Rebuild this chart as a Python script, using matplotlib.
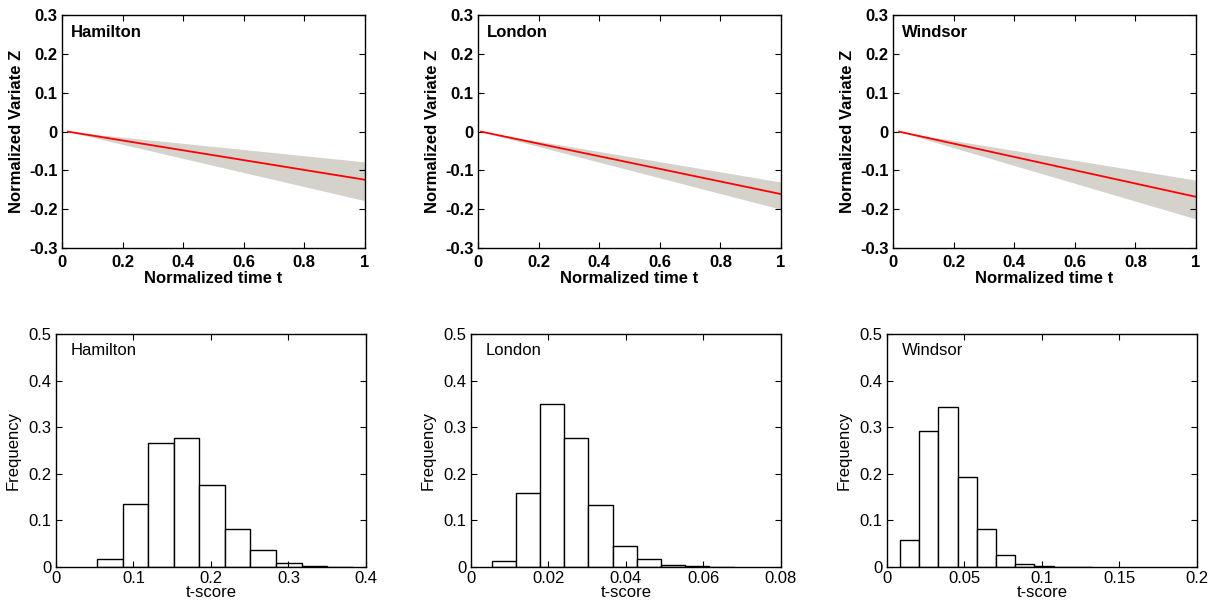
import numpy as np
import matplotlib.pyplot as plt

plt.rcParams['font.family'] = ['Liberation Sans', 'DejaVu Sans']

# Cities
cities = ['Hamilton', 'London', 'Windsor']

# Top row: trend of normalized variate (start t, end value, band at t=1)
t_start = [0.02, 0.01, 0.02]
z_end = [-0.124, -0.161, -0.168]
band_upper = [-0.078, -0.130, -0.125]
band_lower = [-0.178, -0.200, -0.225]

# Bottom row: t-score histograms (first bin edge, bin width, frequencies)
hist_start = [0.053, 0.0053, 0.0084]
hist_width = [0.033, 0.00625, 0.0124]
hist_freq = [
    [0.018, 0.135, 0.267, 0.278, 0.177, 0.081, 0.036, 0.009, 0.003, 0.001],
    [0.013, 0.160, 0.349, 0.277, 0.134, 0.045, 0.018, 0.004, 0.002, 0.001],
    [0.059, 0.293, 0.343, 0.193, 0.081, 0.026, 0.007, 0.002, 0.001, 0.001],
]
hist_xmax = [0.4, 0.08, 0.2]
hist_xticks = [[0, 0.1, 0.2, 0.3, 0.4],
               [0, 0.02, 0.04, 0.06, 0.08],
               [0, 0.05, 0.1, 0.15, 0.2]]
hist_xlabels = [['0', '0.1', '0.2', '0.3', '0.4'],
                ['0', '0.02', '0.04', '0.06', '0.08'],
                ['0', '0.05', '0.1', '0.15', '0.2']]

FS = 12

fig = plt.figure(figsize=(12.17, 6.08), dpi=100)

top_left = [0.0509, 0.3928, 0.7338]
bot_left = [0.046, 0.387, 0.7288]


def style_ax(ax):
    ax.tick_params(direction='in', top=True, right=True, length=4, width=0.8, pad=3)
    for s in ax.spines.values():
        s.set_linewidth(1.0)


for i, city in enumerate(cities):
    # trend panel
    ax = fig.add_axes([top_left[i], 0.592, 0.249, 0.383])
    t = np.array([t_start[i], 1.0])
    ax.fill_between(t, [0, band_lower[i]], [0, band_upper[i]],
                    color='#d5d1cb', linewidth=0)
    ax.plot(t, [0, z_end[i]], color='red', linewidth=1.3)
    ax.set_xlim(0, 1)
    ax.set_ylim(-0.3, 0.3)
    ax.set_xticks([0, 0.2, 0.4, 0.6, 0.8, 1])
    ax.set_xticklabels(['0', '0.2', '0.4', '0.6', '0.8', '1'])
    ax.set_yticks([-0.3, -0.2, -0.1, 0, 0.1, 0.2, 0.3])
    ax.set_yticklabels(['-0.3', '-0.2', '-0.1', '0', '0.1', '0.2', '0.3'])
    style_ax(ax)
    ax.tick_params(axis='x', pad=5)
    for lab in ax.get_xticklabels() + ax.get_yticklabels():
        lab.set_fontsize(FS)
        lab.set_fontweight('bold')
    ax.set_xlabel('Normalized time t', fontsize=FS, fontweight='bold', labelpad=1)
    ax.set_ylabel('Normalized Variate Z', fontsize=FS, fontweight='bold', labelpad=4)
    ax.text(0.03, 0.925, city, transform=ax.transAxes, fontsize=FS,
            fontweight='bold', va='center', ha='left')

    # histogram panel
    ax2 = fig.add_axes([bot_left[i], 0.0674, 0.2547, 0.383])
    freq = np.array(hist_freq[i])
    edges = hist_start[i] + hist_width[i] * np.arange(len(freq))
    ax2.bar(edges, freq, width=hist_width[i], align='edge',
            facecolor='white', edgecolor='black', linewidth=1.0)
    ax2.set_xlim(0, hist_xmax[i])
    ax2.set_ylim(0, 0.5)
    ax2.set_xticks(hist_xticks[i])
    ax2.set_xticklabels(hist_xlabels[i])
    ax2.set_yticks([0, 0.1, 0.2, 0.3, 0.4, 0.5])
    ax2.set_yticklabels(['0', '0.1', '0.2', '0.3', '0.4', '0.5'])
    style_ax(ax2)
    ax2.tick_params(labelsize=FS)
    ax2.set_xlabel('t-score', fontsize=FS, labelpad=-1)
    ax2.set_ylabel('Frequency', fontsize=FS, labelpad=6)
    ax2.text(0.048, 0.93, city, transform=ax2.transAxes, fontsize=FS,
             va='center', ha='left')

fig.savefig('out.png', dpi=100)
